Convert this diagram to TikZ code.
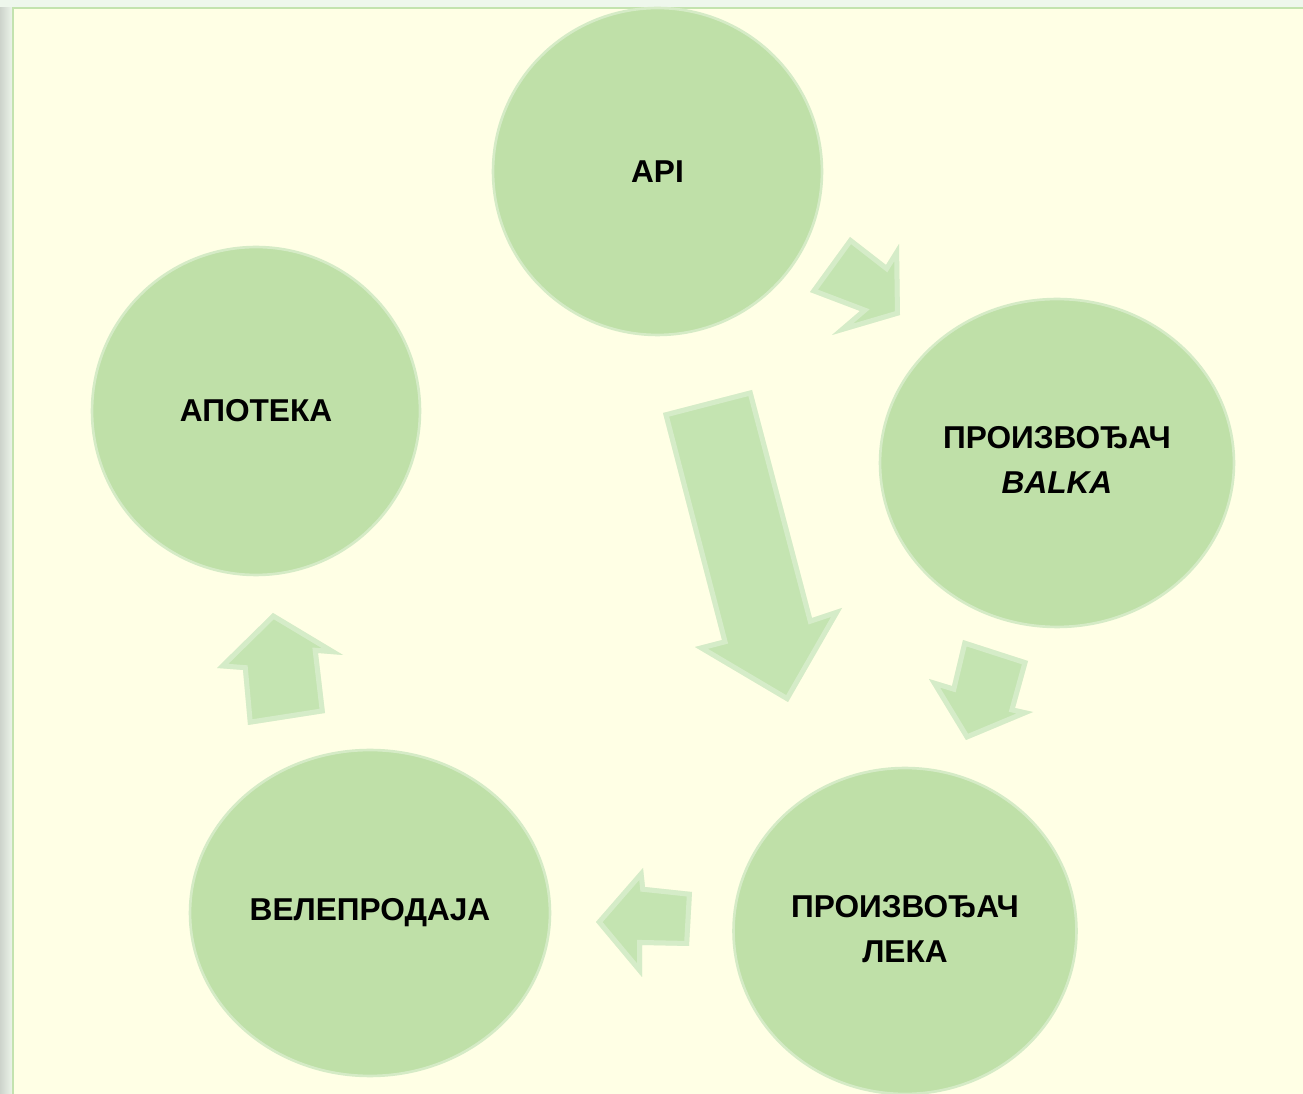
\documentclass[tikz,border=0pt]{standalone}
\usepackage{fontspec}
\setmainfont{Liberation Sans}
\usetikzlibrary{positioning,shapes.geometric,calc}
\definecolor{panelyellow}{RGB}{255,255,229}
\definecolor{frameline}{RGB}{195,227,174}
\definecolor{outergreen}{RGB}{238,247,236}
\definecolor{bubblegreen}{RGB}{191,224,168}
\definecolor{arrowgreen}{RGB}{196,228,177}

\tikzset{
  bubble/.style={ellipse, fill=bubblegreen, draw=white!35!bubblegreen, line width=1.5pt, inner sep=0pt},
  caption/.style={font=\fontsize{18}{26}\selectfont\bfseries, align=center, text=black},
  blockarrow/.style={fill=arrowgreen},
  bevel/.style={draw=white, opacity=0.3, line width=0.2cm, line join=miter}
}
% filled block arrow with a light inner rim
\newcommand{\greenarrow}[1]{%
  \fill[blockarrow] #1 -- cycle;
  \begin{scope}
    \clip #1 -- cycle;
    \draw[bevel] #1 -- cycle;
  \end{scope}}

\begin{document}
\begin{tikzpicture}[x=0.02cm,y=-0.02cm]
\useasboundingbox (0,0) rectangle (1303,1094);
\clip (0,0) rectangle (1303,1094);
% page and frame
\fill[outergreen] (0,0) rectangle (1303,1094);
\shade[left color=gray!30!outergreen, right color=outergreen] (0,8) rectangle (13,1094);
\fill[panelyellow] (13,8) rectangle (1303,1094);
\draw[frameline, line width=1.2pt] (13,1094) -- (13,8) -- (1303,8);

% the five stations
\node[bubble, minimum width=6.58cm, minimum height=6.54cm] (api) at (657.5,171.5) {};
\node[bubble, minimum width=6.56cm, minimum height=6.56cm] (apoteka) at (256,411) {};
\node[bubble, minimum width=7.08cm, minimum height=6.56cm] (balka) at (1057,463) {};
\node[bubble, minimum width=6.86cm, minimum height=6.52cm] (lek) at (905,931) {};
\node[bubble, minimum width=7.20cm, minimum height=6.52cm] (veleprodaja) at (370,913) {};

\node[caption] (apitxt) at (api) {API};
\node[caption] (apotekatxt) at (apoteka) {АПОТЕКА};
\node[caption] (balkatxt) at ($(balka)+(0,-3)$) {ПРОИЗВОЂАЧ\\\textit{BALKA}};
\node[caption] (lektxt) at ($(lek)+(0,-2)$) {ПРОИЗВОЂАЧ\\ЛЕКА};
\node[caption] (veleprodajatxt) at (veleprodaja) {ВЕЛЕПРОДАЈА};

% block arrows
\greenarrow{(850,237) -- (886,265) -- (899,244) -- (900,315) -- (832,335) -- (860,311) -- (810,292)}
\greenarrow{(963,640) -- (1028,661) -- (1015,708) -- (1033,712) -- (966,740) -- (929,679) -- (952,686)}
\greenarrow{(692,892) -- (689,946) -- (642,945) -- (642,977) -- (596,922) -- (643,868) -- (645,887)}
\greenarrow{(248,725) -- (243,670) -- (217,668) -- (273,613) -- (343,655) -- (318,653) -- (325,713)}
\greenarrow{(663,413) -- (752,390) -- (812,618) -- (842,608) -- (788,702) -- (695,647) -- (722,640)}
\end{tikzpicture}
\end{document}
